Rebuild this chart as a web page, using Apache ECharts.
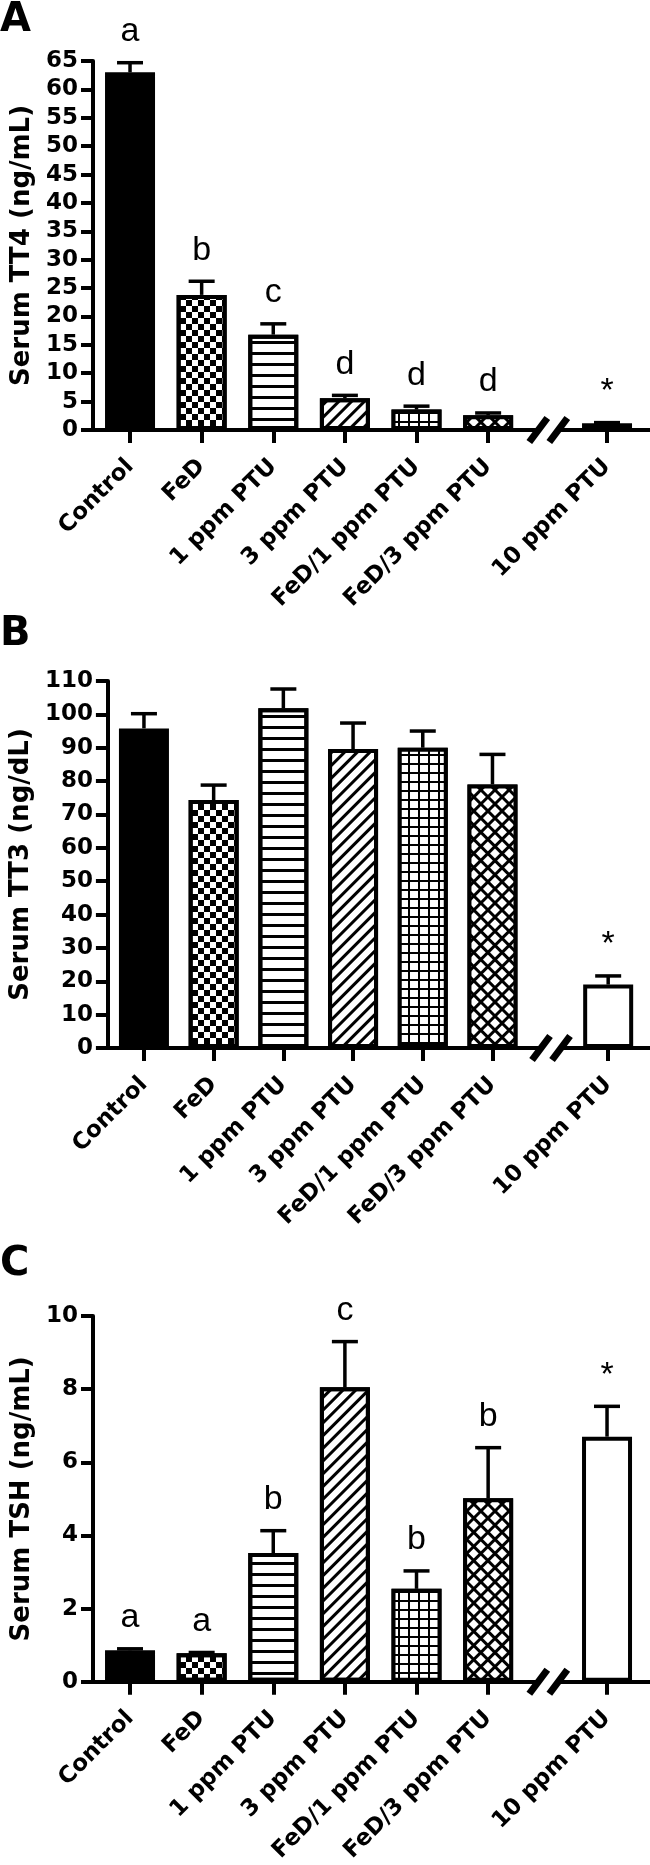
<!DOCTYPE html>
<html>
<head>
<meta charset="utf-8">
<script src="https://cdn.jsdelivr.net/npm/echarts@6/dist/echarts.min.js"></script>
<style>
  html, body { margin: 0; padding: 0; background: #fff; }
  #chart { width: 650px; height: 1865px; }
</style>
</head>
<body>
<div id="chart"></div>
<script>
// groups, and where each sits on the x scale (10 ppm sits past the axis break)
const categories = ['Control', 'FeD', '1 ppm PTU', '3 ppm PTU', 'FeD/1 ppm PTU', 'FeD/3 ppm PTU', '10 ppm PTU'];
const positions = [0, 1, 2, 3, 4, 5, 6.66];
const breakPos = 5.84;

// A: serum TT4 (ng/mL)
const tt4Mean = [63.0, 23.8, 16.8, 5.6, 3.6, 2.6, 1.2];
const tt4Upper = [64.7, 26.2, 18.7, 6.1, 4.2, 3.0, 1.3];
const tt4Letters = ['a', 'b', 'c', 'd', 'd', 'd', '*'];
const tt4Axis = [0, 65, 5];

// B: serum TT3 (ng/dL)
const tt3Mean = [95.8, 74.3, 101.8, 89.6, 90.0, 79.0, 19.0];
const tt3Upper = [100.2, 78.8, 107.6, 97.4, 95.0, 88.0, 21.6];
const tt3Letters = ['', '', '', '', '', '', '*'];
const tt3Axis = [0, 110, 10];

// C: serum TSH (ng/mL)
const tshMean = [0.86, 0.78, 3.52, 8.05, 2.54, 5.02, 6.7];
const tshUpper = [0.9, 0.8, 4.13, 9.3, 3.03, 6.4, 7.53];
const tshLetters = ['a', 'a', 'b', 'c', 'b', 'b', '*'];
const tshAxis = [0, 10, 2];

const BOLD = '"DejaVu Sans", Verdana, sans-serif';
const PLAIN = '"Liberation Sans", Arial, Helvetica, sans-serif';
const black = '#000';

// fill + hatch for every group
const fills = ['#000', '#fff', '#fff', '#fff', '#000', '#000', '#fff'];
const decals = [
  null,
  { symbol: 'rect', symbolSize: 1, color: black, dashArrayX: [[6, 6], [0, 6, 6, 0]], dashArrayY: [6, 0] },
  { symbol: 'rect', symbolSize: 1, color: black, dashArrayX: [1, 0], dashArrayY: [2.5, 7.5] },
  { symbol: 'rect', symbolSize: 1, color: black, dashArrayX: [1, 0], dashArrayY: [2.5, 5.5], rotation: -Math.PI / 4 },
  { symbol: 'rect', symbolSize: 1, color: '#fff', dashArrayX: [8, 2], dashArrayY: [6.5, 2] },
  { symbol: 'rect', symbolSize: 1, color: '#fff', dashArrayX: [6.5, 3], dashArrayY: [6.5, 3], rotation: Math.PI / 4 },
  null
];

const panels = [
  { letter: 'A', title: 'Serum TT4 (ng/mL)', mean: tt4Mean, upper: tt4Upper, marks: tt4Letters, axis: tt4Axis, top: 61, height: 369, letterTop: 1 },
  { letter: 'B', title: 'Serum TT3 (ng/dL)', mean: tt3Mean, upper: tt3Upper, marks: tt3Letters, axis: tt3Axis, top: 681, height: 367, letterTop: 615 },
  { letter: 'C', title: 'Serum TSH (ng/mL)', mean: tshMean, upper: tshUpper, marks: tshLetters, axis: tshAxis, top: 1316, height: 368, letterTop: 1245 }
];

function nearestName(v) {
  let best = 0;
  positions.forEach((p, i) => { if (Math.abs(p - v) < Math.abs(positions[best] - v)) best = i; });
  return categories[best];
}

const grid = [], xAxis = [], yAxis = [], series = [], title = [];

panels.forEach((pan, i) => {
  grid.push({ left: 93, right: 0, top: pan.top, height: pan.height });
  title.push({ text: pan.letter, left: 0, top: pan.letterTop, padding: 0,
    textStyle: { fontFamily: BOLD, fontSize: 40, fontWeight: 'bold', color: black } });

  xAxis.push({
    type: 'value', gridIndex: i, min: -0.517, max: 7.26,
    axisLine: { onZero: false, lineStyle: { color: black, width: 4 } },
    axisTick: { customValues: positions, length: 13, lineStyle: { color: black, width: 4 } },
    axisLabel: {
      customValues: positions, rotate: 45, margin: 33,
      formatter: (v) => nearestName(v),
      fontFamily: BOLD, fontSize: 23, fontWeight: 'bold', color: black
    },
    splitLine: { show: false }
  });

  yAxis.push({
    type: 'value', gridIndex: i, min: pan.axis[0], max: pan.axis[1], interval: pan.axis[2],
    name: pan.title, nameLocation: 'middle', nameRotate: 90, nameGap: 56,
    nameTextStyle: { fontFamily: BOLD, fontSize: 26, fontWeight: 'bold', color: black },
    axisLine: { show: true, onZero: false, lineStyle: { color: black, width: 4 } },
    axisTick: { show: true, length: 12, lineStyle: { color: black, width: 4 } },
    axisLabel: { margin: 15, fontFamily: BOLD, fontSize: 23, fontWeight: 'bold', color: black },
    splitLine: { show: false }
  });

  // bars
  series.push({
    type: 'bar', xAxisIndex: i, yAxisIndex: i, barWidth: 50,
    itemStyle: { borderColor: black, borderWidth: 4 },
    data: positions.map((p, j) => {
      const style = { color: fills[j] };
      if (decals[j]) style.decal = decals[j];
      return { value: [p, pan.mean[j]], itemStyle: style };
    }),
    silent: true
  });

  // upper error bars + significance letters
  series.push({
    type: 'custom', xAxisIndex: i, yAxisIndex: i, z: 5, silent: true,
    data: positions.map((p, j) => [p, pan.mean[j], pan.upper[j]]),
    renderItem: (params, api) => {
      const x = api.value(0);
      const a = api.coord([x, api.value(1)]);
      const b = api.coord([x, api.value(2)]);
      const kids = [
        { type: 'line', shape: { x1: a[0], y1: a[1], x2: b[0], y2: b[1] }, style: { stroke: black, lineWidth: 3.5 } },
        { type: 'line', shape: { x1: b[0] - 13, y1: b[1], x2: b[0] + 13, y2: b[1] }, style: { stroke: black, lineWidth: 3.5 } }
      ];
      const mark = pan.marks[params.dataIndex];
      if (mark) {
        kids.push({ type: 'text', x: b[0], y: b[1] - 14,
          style: { text: mark, fill: black, font: '34px ' + PLAIN, align: 'center', verticalAlign: 'bottom' } });
      }
      return { type: 'group', children: kids };
    }
  });

  // axis break "//"
  series.push({
    type: 'custom', xAxisIndex: i, yAxisIndex: i, z: 6, silent: true,
    data: [[breakPos, pan.axis[0]]],
    renderItem: (params, api) => {
      const c = api.coord([api.value(0), api.value(1)]);
      const dx = 9, dy = 12;
      const slash = (ox) => ({ type: 'line',
        shape: { x1: c[0] + ox - dx, y1: c[1] + dy, x2: c[0] + ox + dx, y2: c[1] - dy },
        style: { stroke: black, lineWidth: 7 } });
      return { type: 'group', children: [
        { type: 'rect', shape: { x: c[0] - 8, y: c[1] - 4, width: 16, height: 8 }, style: { fill: '#fff' } },
        slash(-10), slash(10)
      ] };
    }
  });
});

const chart = echarts.init(document.getElementById('chart'), null, { renderer: 'canvas' });
chart.setOption({
  animation: false,
  backgroundColor: '#fff',
  title, grid, xAxis, yAxis, series
});
</script>
</body>
</html>
